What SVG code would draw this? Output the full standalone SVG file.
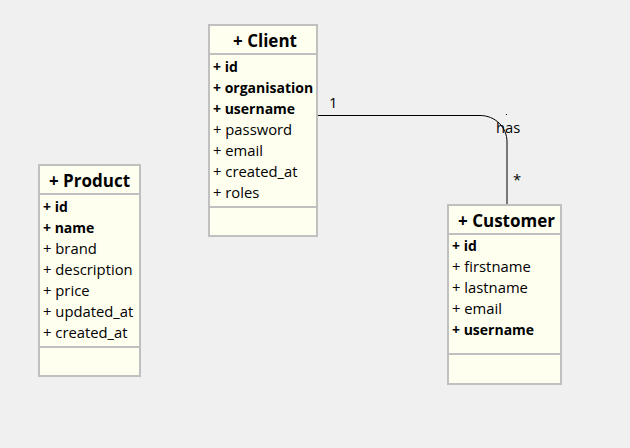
<svg xmlns="http://www.w3.org/2000/svg" width="630" height="448" viewBox="0 0 630 448">
<style>
.box{fill:#fffff0;stroke:#c0c0c0;stroke-width:2}
.sep{stroke:#c0c0c0;stroke-width:2}
.t{font-family:"Open Sans","Noto Sans",sans-serif;font-size:14.8px;fill:#000}
.b{font-weight:bold;font-size:14px}
.h{font-family:"Open Sans","Noto Sans",sans-serif;font-size:17px;font-weight:bold;text-anchor:middle;fill:#000}
.ln{fill:none;stroke:#000;stroke-width:1}
</style>
<rect width="630" height="448" fill="#f0f0f0"/>
<g id="connectors">
<path class="ln" d="M317,115.5 H480 C495,115.5 507,127 507,142 V205"/>
<rect x="506" y="114" width="1" height="1" fill="#000"/>
<text class="t" x="329" y="108">1</text>
<text class="t" x="496" y="133">has</text>
<text class="t" x="513" y="185">*</text>
</g>
<g id="client">
<rect class="box" x="209" y="25" width="108" height="211"/>
<line class="sep" x1="209" y1="54" x2="317" y2="54"/>
<line class="sep" x1="209" y1="207" x2="317" y2="207"/>
<text class="h" x="265" y="47">+ Client</text>
<text class="t b" x="213" y="72">+ id</text>
<text class="t b" x="213" y="93">+ organisation</text>
<text class="t b" x="213" y="114">+ username</text>
<text class="t" x="213" y="135">+ password</text>
<text class="t" x="213" y="156">+ email</text>
<text class="t" x="213" y="177">+ created_at</text>
<text class="t" x="213" y="198">+ roles</text>
</g>
<g id="product">
<rect class="box" x="39" y="165" width="101" height="211"/>
<line class="sep" x1="39" y1="194" x2="140" y2="194"/>
<line class="sep" x1="39" y1="347" x2="140" y2="347"/>
<text class="h" x="89.5" y="187">+ Product</text>
<text class="t b" x="43" y="212">+ id</text>
<text class="t b" x="43" y="233">+ name</text>
<text class="t" x="43" y="254">+ brand</text>
<text class="t" x="43" y="275">+ description</text>
<text class="t" x="43" y="296">+ price</text>
<text class="t" x="43" y="317">+ updated_at</text>
<text class="t" x="43" y="338">+ created_at</text>
</g>
<g id="customer">
<rect class="box" x="448" y="205" width="113" height="179"/>
<line class="sep" x1="448" y1="234" x2="561" y2="234"/>
<line class="sep" x1="448" y1="354" x2="561" y2="354"/>
<text class="h" x="506.5" y="227">+ Customer</text>
<text class="t b" x="452" y="251">+ id</text>
<text class="t" x="452" y="272">+ firstname</text>
<text class="t" x="452" y="293">+ lastname</text>
<text class="t" x="452" y="314">+ email</text>
<text class="t b" x="452" y="335">+ username</text>
</g>
</svg>
